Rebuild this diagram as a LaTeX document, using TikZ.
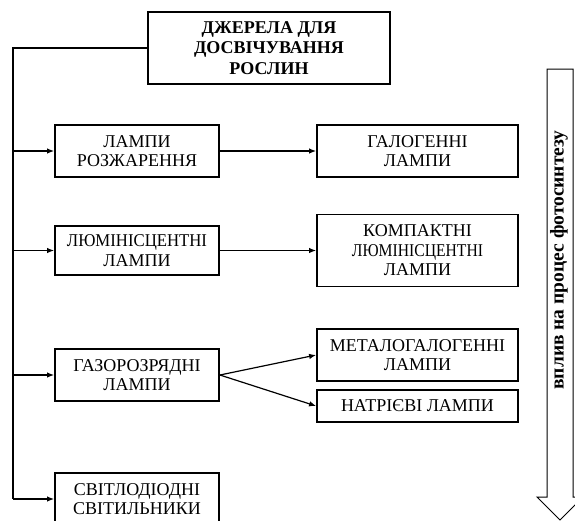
\documentclass[tikz,border=0pt]{standalone}
\usepackage{fontspec}
\setmainfont{Liberation Serif}
\usetikzlibrary{arrows.meta}
\begin{document}
\begin{tikzpicture}[x=1pt,y=-1pt,
  box/.style={draw,line width=1.8pt,inner sep=0pt,align=center,
    font=\fontsize{18}{19.5}\selectfont},
  conn/.style={line width=1.2pt},
  arr/.style={line width=1.2pt,-{Latex[length=7pt,width=5.5pt]}},
  bigarrow/.style={draw,line width=1pt,fill=white}]
\useasboundingbox (0,0) rectangle (575,520);
\clip (0,0) rectangle (575,520);
\fill[white] (0,0) rectangle (575,520);
% boxes
\node[box,minimum width=242pt,minimum height=72pt,font=\bfseries\fontsize{18}{20.5}\selectfont] (top) at (269,48)
  {ДЖЕРЕЛА ДЛЯ\\ДОСВІЧУВАННЯ\\РОСЛИН};
\node[box,minimum width=164pt,minimum height=52pt] (lamp) at (137,151) {ЛАМПИ\\РОЗЖАРЕННЯ};
\node[box,minimum width=201pt,minimum height=52pt] (halo) at (417.5,151) {ГАЛОГЕННІ\\ЛАМПИ};
\node[box,minimum width=164pt,minimum height=49pt] (lum) at (137,250.5)
  {\scalebox{0.93}[1]{ЛЮМІНІСЦЕНТНІ}\\ЛАМПИ};
\node[box,minimum width=201pt,minimum height=72pt] (comp) at (417.5,250.5)
  {КОМПАКТНІ\\\scalebox{0.87}[1]{ЛЮМІНІСЦЕНТНІ}\\ЛАМПИ};
\node[box,minimum width=164pt,minimum height=52pt] (gas) at (137,375) {ГАЗОРОЗРЯДНІ\\ЛАМПИ};
\node[box,minimum width=201pt,minimum height=52pt] (metal) at (417.5,355) {МЕТАЛОГАЛОГЕННІ\\ЛАМПИ};
\node[box,minimum width=201pt,minimum height=32pt] (sod) at (417.5,406) {НАТРІЄВІ ЛАМПИ};
\node[box,minimum width=164pt,minimum height=52pt] (led) at (137,499) {СВІТЛОДІОДНІ\\СВІТИЛЬНИКИ};
% trunk
\coordinate (tx) at (13,0);
\draw[conn] (top.west) -- (top.west -| tx) -- (led.west -| tx);
\foreach \n in {lamp,lum,gas,led}
  \draw[arr] (\n.west -| tx) -- (\n.west);
\draw[arr] (lamp.east) -- (halo.west);
\draw[arr] (lum.east) -- (comp.west);
\draw[arr] (gas.east) -- (metal.west);
\draw[arr] (gas.east) -- (sod.west);
% big arrow
\draw[bigarrow] (547,69) -- (573,69) -- (573,497) -- (583,497) -- (560,520) -- (537,497) -- (547,497) -- cycle;
\node[rotate=90,font=\bfseries\fontsize{19.5}{20}\selectfont,inner sep=0pt] (infl) at (559,260)
  {вплив на процес фотосинтезу};
\end{tikzpicture}
\end{document}
